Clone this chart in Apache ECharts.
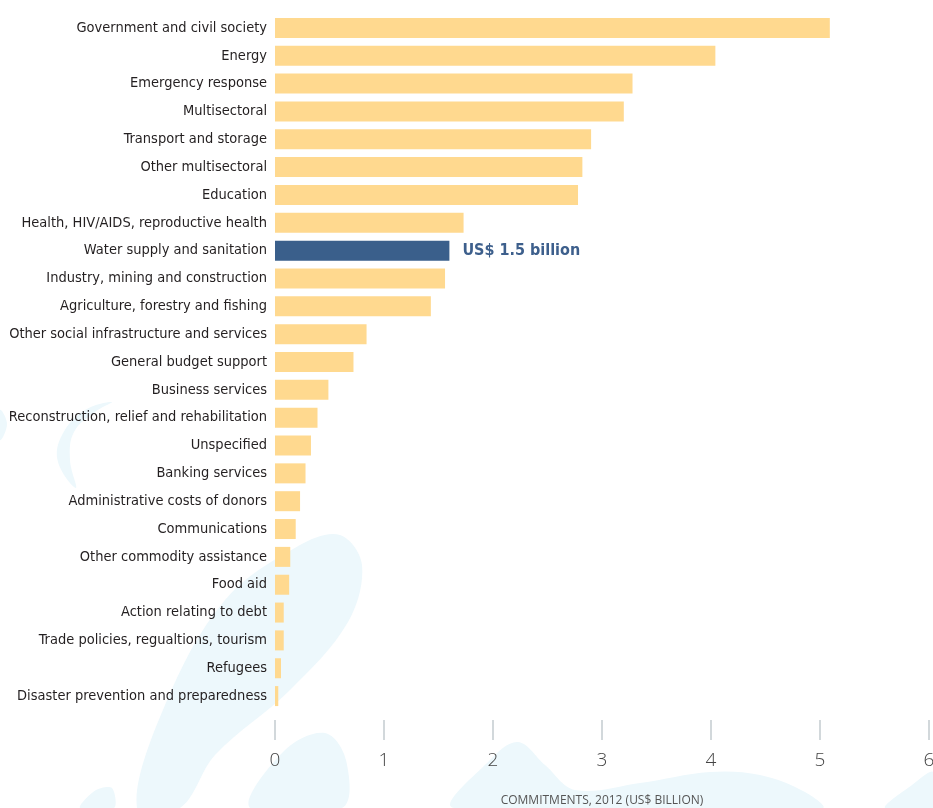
<!DOCTYPE html>
<html>
<head>
<meta charset="utf-8">
<script src="https://cdn.jsdelivr.net/npm/echarts@6/dist/echarts.min.js"></script>
<style>
html,body{margin:0;padding:0;background:#fff;}
#chart{width:933px;height:808px;}
</style>
</head>
<body>
<div id="chart"></div>
<script>
const categories = [
  "Government and civil society",
  "Energy",
  "Emergency response",
  "Multisectoral",
  "Transport and storage",
  "Other multisectoral",
  "Education",
  "Health, HIV/AIDS, reproductive health",
  "Water supply and sanitation",
  "Industry, mining and construction",
  "Agriculture, forestry and fishing",
  "Other social infrastructure and services",
  "General budget support",
  "Business services",
  "Reconstruction, relief and rehabilitation",
  "Unspecified",
  "Banking services",
  "Administrative costs of donors",
  "Communications",
  "Other commodity assistance",
  "Food aid",
  "Action relating to debt",
  "Trade policies, regualtions, tourism",
  "Refugees",
  "Disaster prevention and preparedness"
];
const values = [5.09, 4.04, 3.28, 3.20, 2.90, 2.82, 2.78, 1.73, 1.60, 1.56, 1.43, 0.84, 0.72, 0.49, 0.39, 0.33, 0.28, 0.23, 0.19, 0.14, 0.13, 0.08, 0.08, 0.055, 0.03];
const highlightCategory = "Water supply and sanitation";
const highlightLabel = "US$ 1.5 billion";
const xTicks = [0, 1, 2, 3, 4, 5, 6];
const xAxisName = "COMMITMENTS, 2012 (US$ BILLION)";

const FONT = "'DejaVu Sans Condensed', 'Liberation Sans Narrow', 'Noto Sans', sans-serif";
const BG = '#edf8fc';

const chart = echarts.init(document.getElementById('chart'), null, {renderer: 'canvas'});

const seriesData = categories.map((c, i) => {
  if (c === highlightCategory) {
    return {
      value: values[i],
      itemStyle: {color: '#3a5f8b'},
      label: {
        show: true, position: 'right', distance: 13,
        formatter: highlightLabel,
        color: '#3d5f8c', fontWeight: 'bold', fontSize: 16, fontFamily: FONT
      }
    };
  }
  return values[i];
});

function blob(points, smooth) {
  return {type: 'polygon', z: -10, silent: true, shape: {points: points, smooth: smooth}, style: {fill: BG}};
}

const option = {
  backgroundColor: '#ffffff',
  animation: false,
  graphic: [
    blob([[137,808],[165,705],[225,600],[300,545],[340,535],[362,565],[348,622],[290,690],[215,755],[180,808]], 0.35),
    blob([[250,808],[285,750],[325,733],[346,760],[342,808]], 0.35),
    blob([[454,808],[490,760],[518,742],[545,765],[575,790],[640,783],[710,772],[760,775],[805,792],[822,808]], 0.35),
    blob([[80,808],[96,790],[112,788],[114,808]], 0.3),
    blob([[0,410],[7,424],[0,440]], 0.4),
    blob([[112,402],[85,410],[62,435],[58,462],[76,488],[70,460],[74,432],[95,412]], 0.4),
    blob([[885,808],[912,785],[933,772],[933,808]], 0.3)
  ],
  grid: {left: 275, right: 4, top: 14, bottom: 98, containLabel: false, outerBoundsMode: 'none'},
  xAxis: {
    type: 'value', min: 0, max: 6, interval: 1,
    position: 'bottom', offset: 10,
    axisLine: {show: false},
    axisTick: {show: true, length: 20, lineStyle: {color: '#c3cbd0', width: 1.5}},
    splitLine: {show: false},
    axisLabel: {
      margin: 31, color: '#444', fontSize: 19, fontFamily: "'Open Sans', 'Noto Sans', sans-serif", fontWeight: 300,
      formatter: v => (xTicks.indexOf(v) >= 0 ? String(v) : '')
    },
    name: xAxisName, nameLocation: 'middle', nameGap: 75,
    nameTextStyle: {color: '#555', fontSize: 12, fontFamily: "'Open Sans', 'Noto Sans', sans-serif"}
  },
  yAxis: {
    type: 'category', data: categories, inverse: true,
    axisLine: {show: false}, axisTick: {show: false}, splitLine: {show: false},
    axisLabel: {margin: 8, color: '#231f20', fontSize: 14.5, fontFamily: FONT}
  },
  series: [{
    type: 'bar', data: seriesData, barWidth: 20, z: 5,
    itemStyle: {color: '#ffd98f'}
  }]
};
chart.setOption(option);
</script>
</body>
</html>
